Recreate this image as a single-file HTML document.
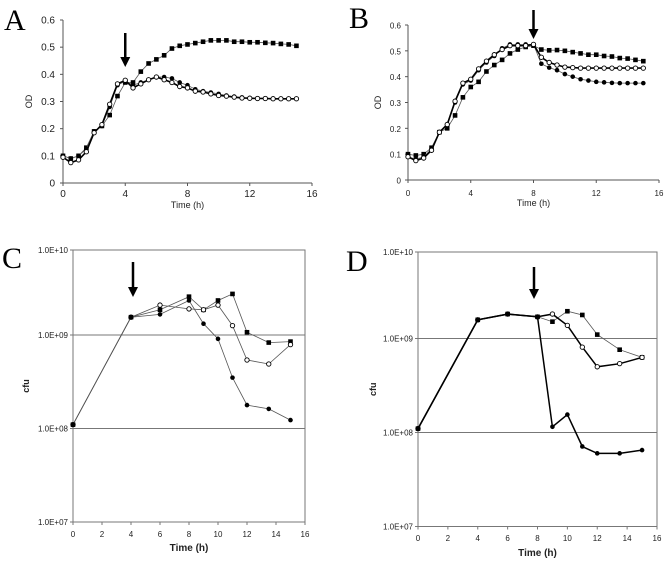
<!DOCTYPE html>
<html><head><meta charset="utf-8"><style>
body{margin:0;background:#fff;}
svg{display:block;font-family:"Liberation Sans",sans-serif;}
.letter{font-family:"Liberation Serif",serif;font-size:30px;}
</style></head><body>
<svg id="fig" width="664" height="561" viewBox="0 0 664 561"></svg>
<script>
// ---- Data ----
const odTimes = [0,0.5,1,1.5,2,2.5,3,3.5,4,4.5,5,5.5,6,6.5,7,7.5,8,8.5,9,9.5,10,10.5,11,11.5,12,12.5,13,13.5,14,14.5,15];
const aSquares = [0.10,0.09,0.10,0.13,0.19,0.21,0.25,0.32,0.37,0.37,0.41,0.44,0.455,0.47,0.495,0.505,0.51,0.515,0.52,0.525,0.525,0.525,0.52,0.52,0.518,0.518,0.516,0.515,0.512,0.51,0.505];
const aFilled = [0.10,0.09,0.10,0.125,0.19,0.21,0.28,0.36,0.375,0.36,0.37,0.38,0.39,0.39,0.385,0.37,0.36,0.345,0.338,0.333,0.328,0.322,0.318,0.315,0.313,0.312,0.312,0.311,0.31,0.31,0.31];
const aOpen = [0.095,0.075,0.085,0.115,0.185,0.215,0.29,0.365,0.378,0.35,0.365,0.38,0.39,0.38,0.37,0.355,0.35,0.338,0.335,0.328,0.322,0.32,0.316,0.313,0.312,0.311,0.311,0.31,0.31,0.31,0.31];
const bSquares = [0.10,0.095,0.10,0.125,0.185,0.20,0.25,0.32,0.36,0.38,0.42,0.445,0.465,0.49,0.505,0.515,0.52,0.505,0.502,0.503,0.50,0.495,0.49,0.485,0.485,0.48,0.478,0.472,0.47,0.465,0.46];
const bFilled = [0.09,0.08,0.09,0.12,0.185,0.21,0.30,0.37,0.385,0.425,0.455,0.48,0.51,0.525,0.525,0.525,0.525,0.45,0.435,0.425,0.41,0.40,0.39,0.385,0.38,0.378,0.376,0.375,0.375,0.375,0.375];
const bOpen = [0.09,0.075,0.085,0.115,0.185,0.215,0.305,0.375,0.39,0.43,0.46,0.485,0.505,0.52,0.52,0.52,0.525,0.475,0.455,0.445,0.437,0.435,0.433,0.433,0.433,0.433,0.433,0.433,0.433,0.433,0.433];
const cfuTimes = [0,4,6,8,9,10,11,12,13.5,15];
const cSquares = [1.1e8,1.55e9,1.86e9,2.57e9,1.86e9,2.34e9,2.75e9,1.07e9,8.3e8,8.5e8];
const cOpen = [1.1e8,1.55e9,2.09e9,1.9e9,1.86e9,2.09e9,1.26e9,5.4e8,4.9e8,7.9e8];
const cFilled = [1.1e8,1.55e9,1.66e9,2.34e9,1.32e9,9.1e8,3.5e8,1.78e8,1.62e8,1.23e8];
const dSquares = [1.1e8,1.58e9,1.82e9,1.7e9,1.51e9,1.95e9,1.78e9,1.1e9,7.6e8,6.3e8];
const dOpen = [1.1e8,1.58e9,1.82e9,1.7e9,1.82e9,1.38e9,8.1e8,5.0e8,5.4e8,6.3e8];
const dFilled = [1.1e8,1.58e9,1.82e9,1.7e9,1.15e8,1.55e8,7.1e7,6.0e7,6.0e7,6.5e7];
const odTicksA = ["0","0.1","0.2","0.3","0.4","0.5","0.6"];
const timeTicksAB = ["0","4","8","12","16"];
const timeTicksCD = ["0","2","4","6","8","10","12","14","16"];
const cfuTicks = ["1.0E+07","1.0E+08","1.0E+09","1.0E+10"];

const NS="http://www.w3.org/2000/svg";
const svg=document.getElementById('fig');
function mk(tag,attrs,parent){const e=document.createElementNS(NS,tag);for(const k in attrs)e.setAttribute(k,attrs[k]);(parent||svg).appendChild(e);return e;}
function txt(s,x,y,attrs,parent){const e=mk('text',Object.assign({x:x,y:y},attrs),parent);e.textContent=s;return e;}
function marker(g,x,y,type){
  let e;
  if(type==='sq'){e=mk('rect',{x:x-2.3,y:y-2.3,width:4.6,height:4.6,fill:'#000'},g);}
  else if(type==='fc'){e=mk('circle',{cx:x,cy:y,r:2.3,fill:'#000'},g);}
  else {e=mk('circle',{cx:x,cy:y,r:2.2,fill:'#fff',stroke:'#000','stroke-width':0.9},g);}
  
  
}
function series(name,xs,ys,fx,fy,type,width,color){
  const g=mk('g',{});
  
  
  const pts=xs.map((t,i)=>fx(t).toFixed(1)+','+fy(ys[i]).toFixed(1)).join(' ');
  mk('polyline',{points:pts,fill:'none',stroke:color,'stroke-width':width},g);
  xs.forEach((t,i)=>marker(g,fx(t),fy(ys[i]),type));
}
function arrow(name,x,y1,y2){
  const g=mk('g',{});
  
  
  mk('line',{x1:x,y1:y1,x2:x,y2:y2-8,stroke:'#000','stroke-width':2.5},g);
  mk('polygon',{points:`${x-5},${y2-10} ${x+5},${y2-10} ${x},${y2}`,fill:'#000'},g);
}

// ---- OD panels ----
function odPanel(id,x0,x16,y0,y06,fs,labX,series3,arrowT,arrowY,tlabY,timeY,odX){
  const fx=t=>x0+(x16-x0)*t/16, fy=v=>y0-(y0-y06)*v/0.6;
  const g=mk('g',{});
  
  
  mk('line',{x1:x0,y1:y06,x2:x0,y2:y0,stroke:'#555','stroke-width':1},g);
  mk('line',{x1:x0,y1:y0,x2:x16,y2:y0,stroke:'#555','stroke-width':1},g);
  odTicksA.forEach((s,i)=>{const v=i*0.1;mk('line',{x1:x0-3,y1:fy(v),x2:x0,y2:fy(v),stroke:'#555'},g);
    txt(s,labX,fy(v)+3.5,{'font-size':fs,'text-anchor':'end',fill:'#222'},g);});
  timeTicksAB.forEach((s,i)=>{const t=i*4;mk('line',{x1:fx(t),y1:y0,x2:fx(t),y2:y0+3,stroke:'#555'},g);
    txt(s,fx(t),tlabY,{'font-size':fs,'text-anchor':'middle',fill:'#222'},g);});
  txt('Time (h)',(x0+x16)/2,timeY,{'font-size':9,'text-anchor':'middle',fill:'#222'},g);
  txt('OD',odX,(y0+y06)/2,{'font-size':9,'text-anchor':'middle',fill:'#222',transform:`rotate(-90 ${odX} ${(y0+y06)/2})`},g);
  series(id+'-squares',odTimes,series3[0],fx,fy,'sq',0.8,'#555');
  series(id+'-filled-circles',odTimes,series3[1],fx,fy,'fc',0.8,'#555');
  series(id+'-open-circles',odTimes,series3[2],fx,fy,'oc',1.6,'#000');
  arrow(id+'-arrow',fx(arrowT),arrowY[0],arrowY[1]);
}
odPanel('panel-a',63,312,183,20,10,55,[aSquares,aFilled,aOpen],4,[33,67],197,208,32);
odPanel('panel-b',408,659,180,25,8,401,[bSquares,bFilled,bOpen],8,[10,39],196,206,381);

// ---- CFU panels ----
function cfuPanel(id,x0,x16,top,y9,dec,labX,s3,widths,arrowX,arrowY,tlabY,timeY,cfuX,right){
  const fx=t=>x0+(x16-x0)*t/16, fy=v=>y9+(9-Math.log10(v))*dec;
  const bottom=fy(1e7);
  const g=mk('g',{});
  
  
  mk('rect',{x:x0,y:top,width:right-x0,height:bottom-top,fill:'none',stroke:'#777','stroke-width':1},g);
  [1e8,1e9].forEach(v=>mk('line',{x1:x0,y1:fy(v),x2:right,y2:fy(v),stroke:'#777','stroke-width':1},g));
  cfuTicks.forEach((s,i)=>{const y=i<3?fy(Math.pow(10,7+i)):top;
    mk('line',{x1:x0-3,y1:y,x2:x0,y2:y,stroke:'#777'},g);
    txt(s,labX,y+3,{'font-size':8,'text-anchor':'end',fill:'#222'},g);});
  timeTicksCD.forEach((s,i)=>{const t=i*2;mk('line',{x1:fx(t),y1:bottom,x2:fx(t),y2:bottom+3,stroke:'#777'},g);
    txt(s,fx(t),tlabY,{'font-size':8,'text-anchor':'middle',fill:'#222'},g);});
  txt('Time (h)',(x0+x16)/2,timeY,{'font-size':10,'font-weight':'bold','text-anchor':'middle',fill:'#222'},g);
  const cy=(top+bottom)/2;
  txt('cfu',cfuX,cy,{'font-size':9,'font-weight':'bold','text-anchor':'middle',fill:'#222',transform:`rotate(-90 ${cfuX} ${cy})`},g);
  series(id+'-squares',cfuTimes,s3[0],fx,fy,'sq',widths[0],widths[0]>1?'#000':'#555');
  series(id+'-open-circles',cfuTimes,s3[1],fx,fy,'oc',widths[1],widths[1]>1?'#000':'#555');
  series(id+'-filled-circles',cfuTimes,s3[2],fx,fy,'fc',widths[2],widths[2]>1?'#000':'#555');
  arrow(id+'-arrow',arrowX,arrowY[0],arrowY[1]);
}
cfuPanel('panel-c',73,305,250,335,93.5,68,[cSquares,cOpen,cFilled],[0.8,0.8,0.8],133,[262,297],537,551,29,305);
cfuPanel('panel-d',418,657,252,338.5,94,413,[dSquares,dOpen,dFilled],[0.8,1.5,1.5],534,[267,299],541,556,376,657);

// ---- Panel letters ----
[['A',4,30],['B',349,28],['C',2,268],['D',346,271]].forEach(([s,x,y])=>{
  const e=txt(s,x,y,{class:'letter',fill:'#000'});
  
  
});
</script>
</body></html>
